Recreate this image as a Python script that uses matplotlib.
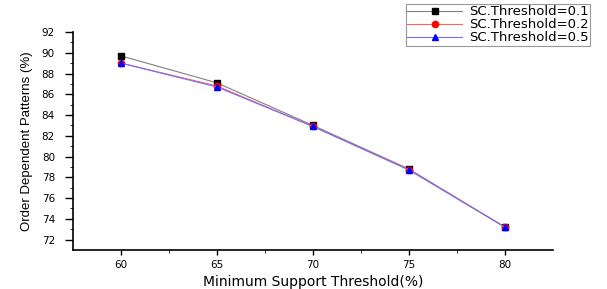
import matplotlib
matplotlib.use("Agg")
import matplotlib.pyplot as plt

support = [60, 65, 70, 75, 80]
sc_01 = [89.7, 87.1, 83.0, 78.8, 73.2]
sc_02 = [89.0, 86.8, 82.9, 78.75, 73.2]
sc_05 = [89.0, 86.7, 82.9, 78.7, 73.2]
labels = ["SC.Threshold=0.1", "SC.Threshold=0.2", "SC.Threshold=0.5"]

plt.rcParams['font.family'] = ['DejaVu Sans']

fig = plt.figure(figsize=(6.07, 2.89), dpi=100)
ax = fig.add_axes([73/607, 1 - 250/289, (553-73)/607, (250-32)/289])

ax.plot(support, sc_01, color='#808080', lw=0.8, marker='s', ms=4.5,
        mfc='black', mec='black', label=labels[0])
ax.plot(support, sc_02, color='#ff6060', lw=0.8, marker='o', ms=4.5,
        mfc='red', mec='red', label=labels[1])
ax.plot(support, sc_05, color='#7070ff', lw=0.8, marker='^', ms=5,
        mfc='blue', mec='blue', label=labels[2])

ax.set_xlim(57.5, 82.5)
ax.set_ylim(71, 92)
ax.set_xticks(support)
ax.set_xticks([62.5, 67.5, 72.5, 77.5], minor=True)
ax.set_yticks(range(72, 93, 2))
ax.set_yticks(range(73, 92, 2), minor=True)
ax.tick_params(axis='y', labelsize=7.5, width=1, length=6, pad=7)
ax.tick_params(axis='x', labelsize=7.5, width=1, length=3.5, pad=4)
ax.tick_params(which='minor', length=2.5)
for s in ['top', 'right']:
    ax.spines[s].set_visible(False)
for s in ['left', 'bottom']:
    ax.spines[s].set_linewidth(1.2)

ax.set_xlabel("Minimum Support Threshold(%)", fontsize=10, labelpad=3)
ax.set_ylabel("Order Dependent Patterns (%)", fontsize=9.5,
              family=['Liberation Sans Narrow', 'Liberation Sans'], labelpad=6)

leg = fig.legend(loc='upper right', bbox_to_anchor=(590/607, 1 - 4/289),
                 fontsize=9.5, frameon=True, fancybox=False, handlelength=4.2,
                 borderpad=0.1, labelspacing=0.0, handletextpad=0.5,
                 borderaxespad=0)
leg.get_frame().set_edgecolor('#808080')
leg.get_frame().set_linewidth(0.8)

fig.savefig("out.png", dpi=100)
